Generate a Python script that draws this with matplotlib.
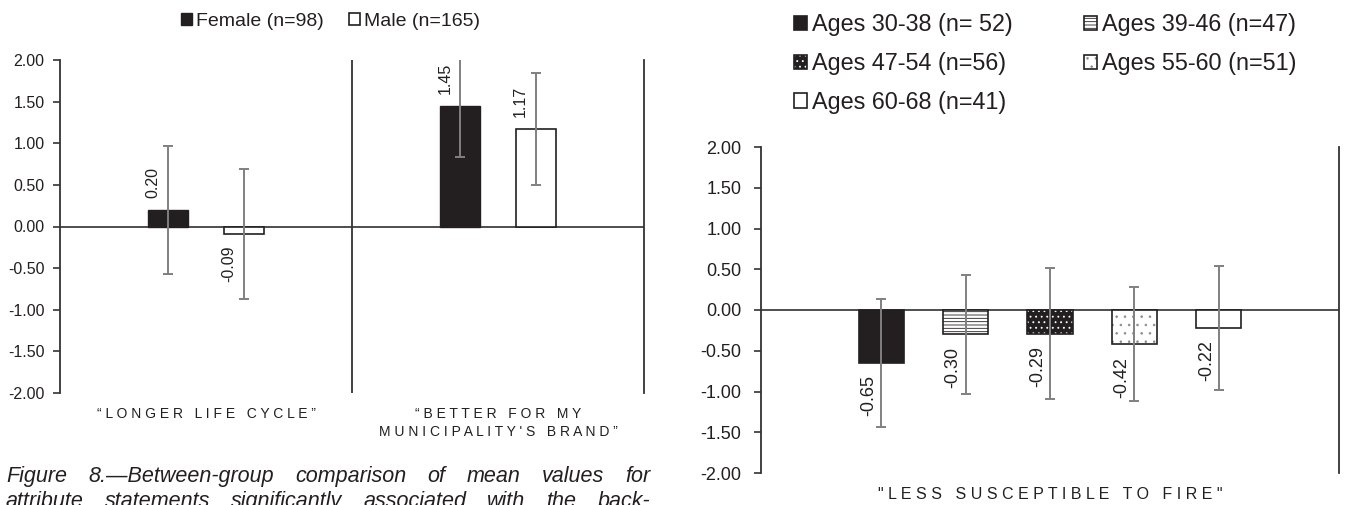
import numpy as np
import matplotlib.pyplot as plt

plt.rcParams['font.family'] = ['Liberation Sans', 'DejaVu Sans']
plt.rcParams['axes.unicode_minus'] = False
plt.rcParams['hatch.linewidth'] = 0.6

INK = '#231f20'
LINE = '#333333'
ERR = '#808080'
W, H = 1345, 505

# left panel: gender comparison
gender_categories = ['\u201cLONGER LIFE CYCLE\u201d', '\u201cBETTER FOR MY\nMUNICIPALITY\'S BRAND\u201d']
gender_labels = ['Female (n=98)', 'Male (n=165)']
female_means = [0.20, 1.45]
female_err = [0.77, 0.61]
male_means = [-0.09, 1.17]
male_err = [0.78, 0.67]

# right panel: age comparison
age_category = ['"LESS SUSCEPTIBLE TO FIRE"']
age_labels = ['Ages 30-38 (n= 52)', 'Ages 39-46 (n=47)', 'Ages 47-54 (n=56)',
              'Ages 55-60 (n=51)', 'Ages 60-68 (n=41)']
age_means = [-0.65, -0.30, -0.29, -0.42, -0.22]
age_err = [0.79, 0.73, 0.80, 0.70, 0.76]

y_ticks = np.arange(-2.0, 2.01, 0.5)

caption_lines = ['Figure 8.\u2014Between-group comparison of mean values for',
                 'attribute statements significantly associated with the back-']


def spread(text):
    # fake letter spacing: single space between letters, wider between words
    return '\n'.join('   '.join(' '.join(word) for word in line.split(' ')) for line in text.split('\n'))


def frame(ax, fs, pad):
    ax.set_ylim(-2, 2)
    ax.set_yticks(y_ticks, [f'{t:.2f}' for t in y_ticks])
    ax.tick_params(axis='y', direction='out', length=5, width=1.2, color=LINE,
                   labelsize=fs, labelcolor=INK, pad=pad)
    ax.tick_params(axis='x', length=0, labelcolor=INK)
    for side in ['top', 'bottom']:
        ax.spines[side].set_visible(False)
    for side in ['left', 'right']:
        ax.spines[side].set_color(LINE)
        ax.spines[side].set_linewidth(1.3)
    ax.axhline(0, color='#404040', lw=1.3, zorder=1)


def value_labels(ax, xs, values, fs, dx, dy):
    for xi, v in zip(xs, values):
        up = v > 0
        ax.annotate(f'{v:.2f}', (xi, v), xytext=(dx, dy if up else -dy), textcoords='offset points',
                    rotation=90, ha='center', va='bottom' if up else 'top', fontsize=fs, color=INK)


def justify(fig, words, x0, x1, y, **kw):
    texts = [fig.text(0, y, w, va='baseline', ha='left', **kw) for w in words]
    r = fig.canvas.get_renderer()
    widths = [t.get_window_extent(r).width for t in texts]
    gap = (x1 - x0 - sum(widths)) / (len(words) - 1)
    pos = x0
    for t, w in zip(texts, widths):
        t.set_x(pos / W)
        pos += w + gap


def box(x0, y_top, x1, y_bot):
    return [x0 / W, 1 - y_bot / H, (x1 - x0) / W, (y_bot - y_top) / H]


fig = plt.figure(figsize=(W / 100, H / 100), dpi=100)
ax1 = fig.add_axes(box(60, 60, 644, 393))
ax2 = fig.add_axes(box(761, 147, 1339, 473))

# ---- left chart
x = np.arange(len(gender_categories))
off, bw = 0.13, 0.135
fb = ax1.bar(x - off, female_means, bw, color=INK, edgecolor=INK, lw=1.0, zorder=2)
mb = ax1.bar(x + off, male_means, bw, color='white', edgecolor=INK, lw=1.2, zorder=2)
for xs, m, e in [(x - off, female_means, female_err), (x + off, male_means, male_err)]:
    ax1.errorbar(xs, m, yerr=e, fmt='none', ecolor=ERR, elinewidth=1.4, capsize=3.5, capthick=1.4, zorder=3)
value_labels(ax1, x - off, female_means, 11.5, -11, 8.5)
value_labels(ax1, x + off, male_means, 11.5, -11, 8.5)
ax1.set_xlim(-0.5, len(gender_categories) - 0.5)
frame(ax1, 11.5, 6)
ax1.axvline(0.5, color=LINE, lw=1.3, zorder=1)
ax1.set_xticks(x, [spread(c) for c in gender_categories], fontsize=10)
ax1.tick_params(axis='x', pad=10)
for lab in ax1.get_xticklabels():
    lab.set_linespacing(1.37)
fig.legend([fb, mb], gender_labels, loc='upper left', bbox_to_anchor=(181 / W, 1 - 13 / H), ncol=2,
           frameon=False, fontsize=14, handlelength=0.57, handleheight=0.57, handletextpad=0.2,
           columnspacing=1.3, borderpad=0, borderaxespad=0, labelcolor=INK)

# ---- right chart
n = len(age_means)
step, aw = 0.146, 0.078
ax_pos = (np.arange(n) - (n - 1) / 2) * step
styles = [(INK, None, INK), ('white', '-----', INK), (INK, '...', 'white'),
          ('white', '..', '#8c8c8c'), ('white', None, INK)]
handles = []
for i, (face, hatch, hcol) in enumerate(styles):
    fill = ax2.bar(ax_pos[i], age_means[i], aw, color=face, edgecolor=hcol, hatch=hatch, lw=0, zorder=2)
    edge = ax2.bar(ax_pos[i], age_means[i], aw, fill=False, edgecolor=INK, lw=1.2, zorder=2)
    handles.append((fill[0], edge[0]))
ax2.errorbar(ax_pos, age_means, yerr=age_err, fmt='none', ecolor=ERR, elinewidth=1.4, capsize=3.5,
             capthick=1.4, zorder=3)
value_labels(ax2, ax_pos, age_means, 13, -9, 9)
ax2.set_xlim(-0.5, 0.5)
frame(ax2, 13, 9)
ax2.set_xticks([0], [spread(c) for c in age_category], fontsize=11.5)
ax2.tick_params(axis='x', pad=10)
order = [0, 2, 4, 1, 3]
fig.legend([handles[i] for i in order], [age_labels[i] for i in order], loc='upper left',
           bbox_to_anchor=(794 / W, 1 - 13 / H), ncol=2, frameon=False, fontsize=16.8,
           handlelength=0.55, handleheight=0.55, handletextpad=0.22, columnspacing=3.05,
           labelspacing=0.68, borderpad=0, borderaxespad=0, labelcolor=INK)

# ---- caption, justified
for line, base in zip(caption_lines, [482, 507]):
    justify(fig, line.split(' '), 6, 650, 1 - base / H, fontsize=15.5, style='italic', color=INK)

fig.savefig('out.png', dpi=100)
